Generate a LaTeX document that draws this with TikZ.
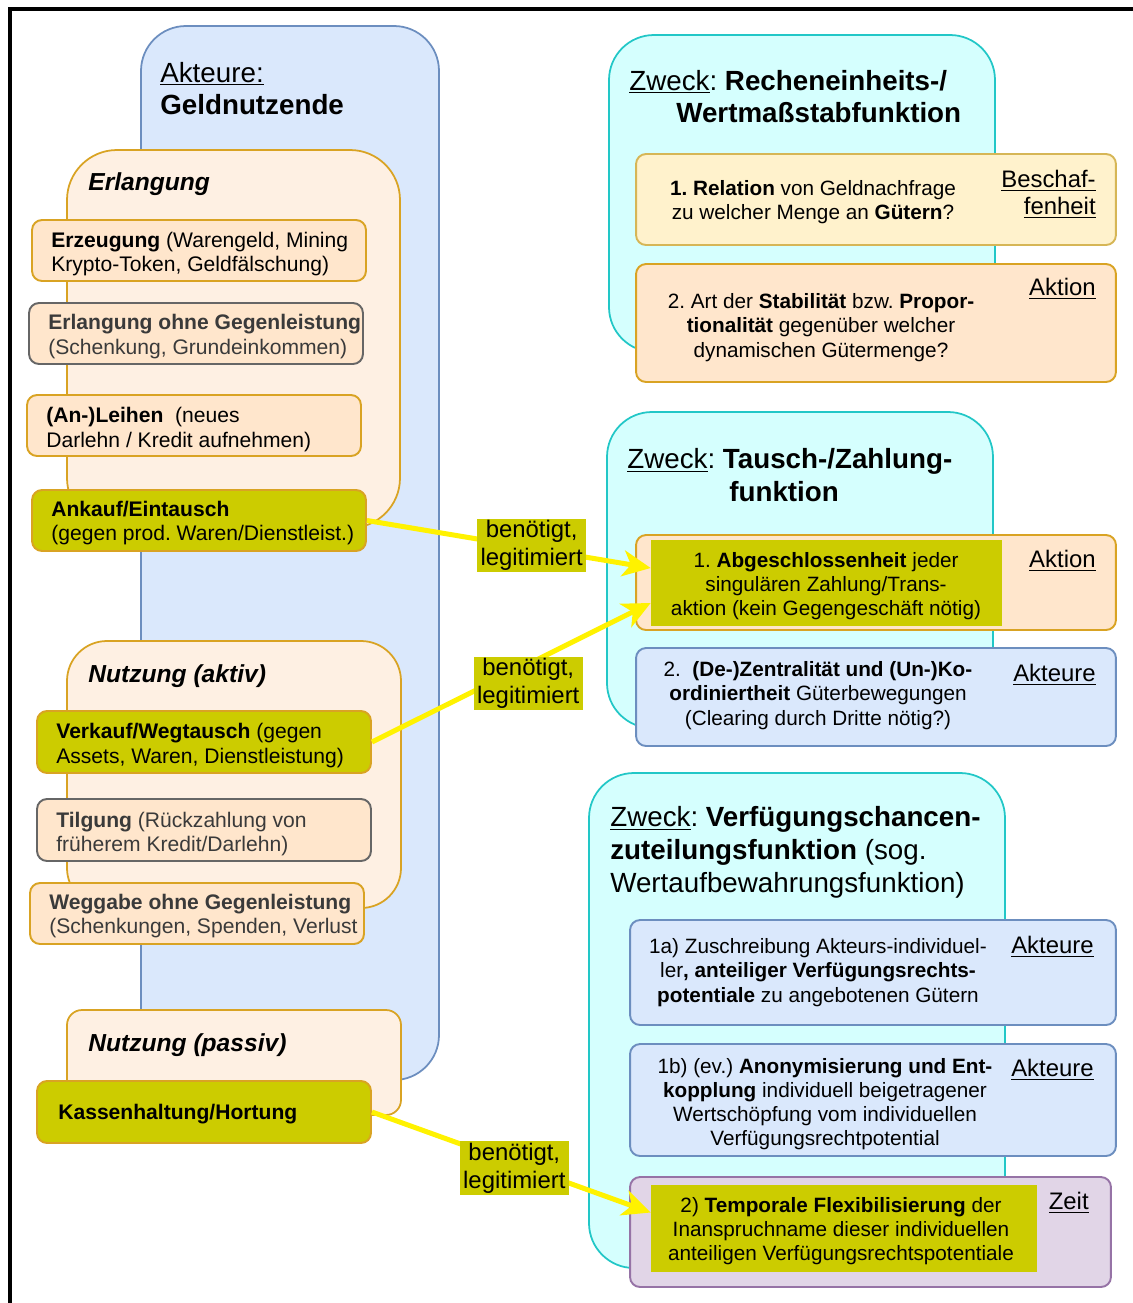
\documentclass[tikz,border=0pt]{standalone}
\usepackage{fontspec}
\setmainfont{Liberation Sans}
\usepackage{xcolor}
\usepackage{tikz}
\usetikzlibrary{arrows.meta}
\definecolor{blaufill}{HTML}{DAE8FC}
\definecolor{blaurand}{HTML}{6C8EBF}
\definecolor{phasefill}{HTML}{FEF0E3}
\definecolor{orangefill}{HTML}{FFE6CC}
\definecolor{orangerand}{HTML}{D9A323}
\definecolor{gelbfill}{HTML}{FFF2CC}
\definecolor{gelbrand}{HTML}{D6B656}
\definecolor{oliv}{HTML}{CCCC00}
\definecolor{cyanfill}{HTML}{D5FFFE}
\definecolor{cyanrand}{HTML}{22C7C7}
\definecolor{lilafill}{HTML}{E1D5E7}
\definecolor{lilarand}{HTML}{9673A6}
\definecolor{grautext}{HTML}{3A3A3A}
\frenchspacing

\begin{document}
\begin{tikzpicture}[x=0.02cm,y=-0.02cm,
  grp/.style={line width=1pt,rounded corners=0.9cm},
  box/.style={draw,line width=1.1pt,rounded corners=0.2cm,inner sep=0pt},
  linksbox/.style={box,minimum width=6.68cm,minimum height=1.22cm},
  rechtsbox/.style={box,minimum width=9.6cm},
  txt/.style={inner sep=0pt,anchor=west,align=left,yshift=-0.04cm,font=\fontsize{12}{13.8}\selectfont},
  ctxt/.style={inner sep=0pt,align=center,yshift=-0.04cm,font=\fontsize{11.8}{13.8}\selectfont},
  titel/.style={inner sep=0pt,anchor=west,align=left,font=\fontsize{15.8}{18.7}\selectfont},
  phase/.style={inner sep=0pt,anchor=west,yshift=-0.04cm,font=\fontsize{14}{17}\selectfont\bfseries\itshape},
  tag/.style={inner sep=0pt,anchor=east,align=right,font=\fontsize{13.6}{15.3}\selectfont},
  legit/.style={fill=oliv,text=black,inner xsep=2pt,inner ysep=1pt,align=center,font=\fontsize{13.6}{15.9}\selectfont},
  pfeil/.style={yellow,line width=0.1cm,-{Stealth[length=0.56cm,width=0.52cm,inset=0.16cm]}}]
\useasboundingbox (0,0) rectangle (1133,1303);
\draw[line width=0.07cm] (10,1303) -- (10,9) -- (1133,9);

\draw[grp,fill=blaufill,draw=blaurand] (141,26) rectangle (439,1080);
\node[titel] (akt) at (160,88.5) {\underline{Akteure:}\\\textbf{Geldnutzende}};

\draw[grp,fill=phasefill,draw=orangerand,rounded corners=1cm] (67,150) rectangle (400,528);
\node[phase] (erl) at (88,182) {Erlangung};
\node[linksbox,fill=orangefill,draw=orangerand] (erz) at (199,250.5) {};
\node[txt] (erzt) at (51,252) {\textbf{Erzeugung} (Warengeld, Mining\\Krypto-Token, Geldfälschung)};
\node[linksbox,fill=orangefill,draw=gray!80!black] (ohne) at (196,333.5) {};
\node[txt,text=grautext] (ohnet) at (48,334.5) {\textbf{Erlangung ohne Gegenleistung}\\(Schenkung, Grundeinkommen)};
\node[linksbox,fill=orangefill,draw=orangerand] (leih) at (194,425.5) {};
\node[txt] (leiht) at (46,427.5) {\textbf{(An-)Leihen}~ (neues\\Darlehn / Kredit aufnehmen)};
\node[linksbox,fill=oliv,draw=orangerand] (ankauf) at (199,520.5) {};
\node[txt] (ankauft) at (51,521) {\textbf{Ankauf/Eintausch}\\(gegen prod. Waren/Dienstleist.)};

\draw[grp,fill=phasefill,draw=orangerand,rounded corners=0.8cm] (67,641) rectangle (401,908);
\node[phase] (akti) at (88,674) {Nutzung (aktiv)};
\node[linksbox,fill=oliv,draw=orangerand,minimum height=1.24cm] (verkauf) at (204,742) {};
\node[txt] (verkauft) at (56,743.5) {\textbf{Verkauf/Wegtausch} (gegen\\Assets, Waren, Dienstleistung)};
\node[linksbox,fill=orangefill,draw=gray!80!black,minimum height=1.24cm] (tilg) at (204,830) {};
\node[txt,text=grautext] (tilgt) at (56,832) {\textbf{Tilgung} (Rückzahlung von\\früherem Kredit/Darlehn)};
\node[linksbox,fill=orangefill,draw=orangerand] (weg) at (197,913.5) {};
\node[txt,text=grautext] (wegt) at (49,914) {\textbf{Weggabe ohne Gegenleistung}\\(Schenkungen, Spenden, Verlust};

\draw[grp,fill=phasefill,draw=orangerand,rounded corners=0.3cm] (67,1010) rectangle (401,1115);
\node[phase] (pass) at (88,1043) {Nutzung (passiv)};
\node[linksbox,fill=oliv,draw=orangerand,minimum height=1.24cm] (kasse) at (204,1112) {};
\node[txt] (kasset) at (58,1112) {\textbf{Kassenhaltung/Hortung}};

\draw[grp,fill=cyanfill,draw=cyanrand] (609,35) rectangle (995,352);
\node[titel] (z1) at (629,96.5) {\underline{Zweck}: \textbf{Recheneinheits-/}\\\hspace*{0.94cm}\textbf{Wertmaßstabfunktion}};
\node[rechtsbox,fill=gelbfill,draw=gelbrand,minimum height=1.82cm] (rel) at (876,199.5) {};
\node[ctxt] (relt) at (813,200) {\textbf{1. Relation} von Geldnachfrage\\zu welcher Menge an \textbf{Gütern}?};
\node[tag] (relk) at (1096,194.5) {\underline{Beschaf-}\\\underline{fenheit}};
\node[rechtsbox,fill=orangefill,draw=orangerand,minimum height=2.36cm] (stab) at (876,323) {};
\node[ctxt] (stabt) at (821,325.5) {2. Art der \textbf{Stabilität} bzw. \textbf{Propor-}\\\textbf{tionalität} gegenüber welcher\\dynamischen Gütermenge?};
\node[tag] (stabk) at (1096,289) {\underline{Aktion}};

\draw[grp,fill=cyanfill,draw=cyanrand] (607,412) rectangle (993,728);
\node[titel] (z2) at (627,475) {\underline{Zweck}: \textbf{Tausch-/Zahlung-}\\\hspace*{2.04cm}\textbf{funktion}};
\node[rechtsbox,fill=orangefill,draw=orangerand,minimum height=1.9cm] (absch) at (876,582.5) {};
\node[fill=oliv,minimum width=7.02cm,minimum height=1.72cm,inner sep=0pt] (abschgelb) at (826.5,583) {};
\node[ctxt] (abscht) at (826,584) {1. \textbf{Abgeschlossenheit} jeder\\singulären Zahlung/Trans-\\aktion (kein Gegengeschäft nötig)};
\node[tag] (abschk) at (1096,561) {\underline{Aktion}};
\node[rechtsbox,fill=blaufill,draw=blaurand,minimum height=1.96cm] (zentr) at (876,697) {};
\node[ctxt] (zentrt) at (818,693.5) {2.~ \textbf{(De-)Zentralität und (Un-)Ko-}\\\textbf{ordiniertheit} Güterbewegungen\\(Clearing durch Dritte nötig?)};
\node[tag] (zentrk) at (1096,675) {\underline{Akteure}};

\draw[grp,fill=cyanfill,draw=cyanrand] (589,773) rectangle (1005,1268);
\node[titel] (z3) at (610,852) {\underline{Zweck}: \textbf{Verfügungschancen-}\\\textbf{zuteilungsfunktion} (sog.\\Wertaufbewahrungsfunktion)};
\node[rechtsbox,fill=blaufill,draw=blaurand,minimum width=9.72cm,minimum height=2.1cm] (zuschr) at (873,972.5) {};
\node[ctxt] (zuschrt) at (818,970.5) {1a) Zuschreibung Akteurs-individuel-\\ler\textbf{, anteiliger Verfügungsrechts-}\\\textbf{potentiale} zu angebotenen Gütern};
\node[tag] (zuschrk) at (1094,947) {\underline{Akteure}};
\node[rechtsbox,fill=blaufill,draw=blaurand,minimum width=9.72cm,minimum height=2.24cm] (anon) at (873,1100) {};
\node[ctxt] (anont) at (825,1102) {1b) (ev.) \textbf{Anonymisierung und Ent-}\\\textbf{kopplung} individuell beigetragener\\Wertschöpfung vom individuellen\\Verfügungsrechtpotential};
\node[tag] (anonk) at (1094,1070) {\underline{Akteure}};
\node[rechtsbox,fill=lilafill,draw=lilarand,minimum width=9.62cm,minimum height=2.2cm] (temp) at (870.5,1232) {};
\node[fill=oliv,minimum width=7.72cm,minimum height=1.74cm,inner sep=0pt] (tempgelb) at (844,1228.5) {};
\node[ctxt] (tempt) at (841,1229) {2) \textbf{Temporale Flexibilisierung} der\\Inanspruchname dieser individuellen\\anteiligen Verfügungsrechtspotentiale};
\node[tag] (tempk) at (1089,1203) {\underline{Zeit}};

\draw[pfeil] (ankauf.east) -- node[pos=0.57,legit,xshift=0.06cm,yshift=0.04cm]{benötigt,\\legitimiert} ([yshift=0.3cm]abschgelb.west);
\draw[pfeil] (verkauf.east) -- node[pos=0.55,legit,xshift=0.06cm,yshift=-0.36cm]{benötigt,\\legitimiert} ([yshift=-0.4cm]abschgelb.west);
\draw[pfeil] (kasse.east) -- node[pos=0.5,legit,xshift=0.06cm,yshift=-0.12cm]{benötigt,\\legitimiert} ([yshift=0.32cm]tempgelb.west);
\end{tikzpicture}
\end{document}
